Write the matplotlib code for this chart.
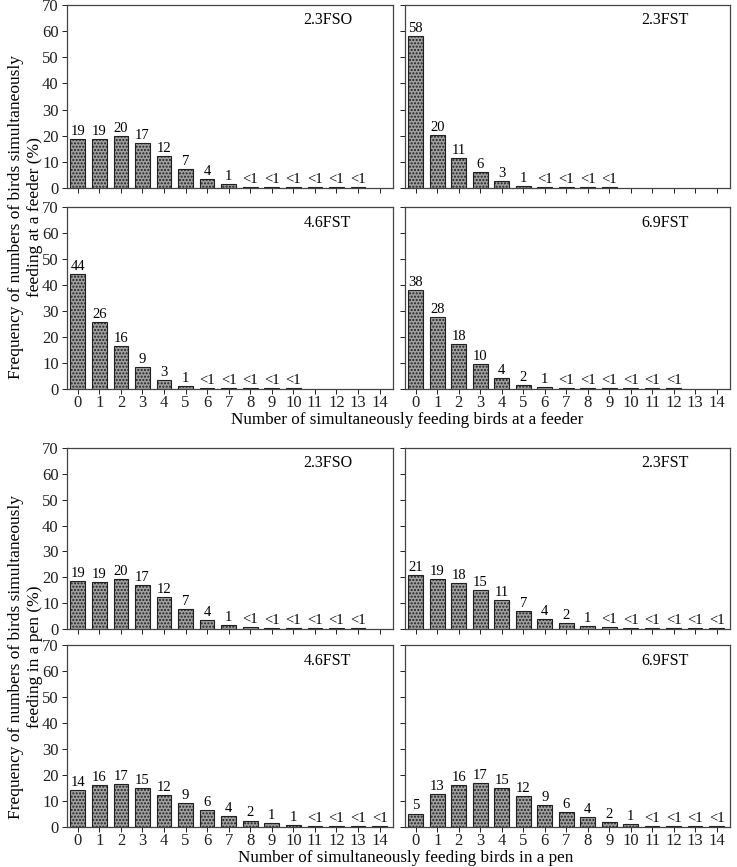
import numpy as np
import matplotlib
matplotlib.use("Agg")
from matplotlib import pyplot as plt

plt.rcParams['font.family'] = ['Liberation Serif', 'DejaVu Serif']

x = np.arange(15)

# feeder data (heights, labels)
feeder_fso = [18.8, 18.8, 19.9, 17.3, 12.2, 7.2, 3.6, 1.4, 0.4, 0.4, 0.4, 0.4, 0.4, 0.4]
feeder_fso_lab = ['19', '19', '20', '17', '12', '7', '4', '1', '<1', '<1', '<1', '<1', '<1', '<1']
feeder_23fst = [58.2, 20.2, 11.3, 6.2, 2.6, 0.8, 0.4, 0.4, 0.4, 0.4]
feeder_23fst_lab = ['58', '20', '11', '6', '3', '1', '<1', '<1', '<1', '<1']
feeder_46fst = [44.3, 25.8, 16.4, 8.4, 3.3, 1.1, 0.4, 0.4, 0.4, 0.4, 0.4]
feeder_46fst_lab = ['44', '26', '16', '9', '3', '1', '<1', '<1', '<1', '<1', '<1']
feeder_69fst = [38.2, 27.6, 17.4, 9.6, 4.3, 1.6, 0.6, 0.3, 0.3, 0.3, 0.3, 0.3, 0.3]
feeder_69fst_lab = ['38', '28', '18', '10', '4', '2', '1', '<1', '<1', '<1', '<1', '<1', '<1']

# pen data
pen_fso = [18.6, 18.3, 19.5, 17.1, 12.5, 7.6, 3.6, 1.5, 0.7, 0.3, 0.3, 0.3, 0.3, 0.3]
pen_fso_lab = ['19', '19', '20', '17', '12', '7', '4', '1', '<1', '<1', '<1', '<1', '<1', '<1']
pen_23fst = [20.7, 19.2, 17.7, 15.1, 11.1, 6.9, 4.0, 2.2, 1.1, 0.6, 0.3, 0.3, 0.3, 0.3, 0.3]
pen_23fst_lab = ['21', '19', '18', '15', '11', '7', '4', '2', '1', '<1', '<1', '<1', '<1', '<1', '<1']
pen_46fst = [14.3, 16.3, 16.6, 15.1, 12.3, 9.3, 6.4, 4.1, 2.5, 1.4, 0.8, 0.5, 0.3, 0.3, 0.3]
pen_46fst_lab = ['14', '16', '17', '15', '12', '9', '6', '4', '2', '1', '1', '<1', '<1', '<1', '<1']
pen_69fst = [5.2, 12.7, 16.3, 16.8, 14.9, 12.1, 8.6, 5.7, 3.7, 2.0, 1.1, 0.5, 0.3, 0.3, 0.3]
pen_69fst_lab = ['5', '13', '16', '17', '15', '12', '9', '6', '4', '2', '1', '<1', '<1', '<1', '<1']

panels = [
    ('2.3FSO', feeder_fso, feeder_fso_lab),
    ('2.3FST', feeder_23fst, feeder_23fst_lab),
    ('4.6FST', feeder_46fst, feeder_46fst_lab),
    ('6.9FST', feeder_69fst, feeder_69fst_lab),
    ('2.3FSO', pen_fso, pen_fso_lab),
    ('2.3FST', pen_23fst, pen_23fst_lab),
    ('4.6FST', pen_46fst, pen_46fst_lab),
    ('6.9FST', pen_69fst, pen_69fst_lab),
]

fig = plt.figure(figsize=(7.37, 8.67), dpi=100)

lefts = [0.0909, 0.5495]
widths = [0.4423, 0.441]
rows = [(0.7832, 0.2111), (0.5513, 0.2099), (0.2745, 0.2088), (0.0461, 0.2099)]

for i, (name, vals, labs) in enumerate(panels):
    r, c = divmod(i, 2)
    ax = fig.add_axes([lefts[c], rows[r][0], widths[c], rows[r][1]])
    n = len(vals)
    ax.bar(x[:n], vals, width=0.68, color='#a0a0a0', edgecolor='#202020',
           linewidth=0.8, hatch='.....', zorder=2)
    for xi, v, t in zip(x[:n], vals, labs):
        ax.text(xi, v + 0.4, t, ha='center', va='bottom', fontsize=10.5)
    ax.text(0.80, 0.915, name, transform=ax.transAxes, ha='center', va='center', fontsize=11.5)
    ax.set_xlim(-0.5, 14.62)
    ax.set_ylim(0, 70)
    ax.set_yticks(range(0, 71, 10))
    ax.set_xticks(x)
    ax.tick_params(direction='out', length=3.5, width=0.7, labelsize=12, colors='#202020', pad=2.5)
    ax.tick_params(axis='x', pad=1)
    if c == 1:
        ax.set_yticklabels([])
    if r in (0, 2):
        ax.set_xticklabels([])
    for s in ax.spines.values():
        s.set_color('#444444')
        s.set_linewidth(0.9)

fig.text(0.553, 0.5156, 'Number of simultaneously feeding birds at a feeder',
         ha='center', va='center', fontsize=12.3)
fig.text(0.55, 0.0104, 'Number of simultaneously feeding birds in a pen',
         ha='center', va='center', fontsize=12.3)
fig.text(0.0346, 0.75, 'Frequency of numbers of birds simultaneously\nfeeding at a feeder (%)',
         ha='center', va='center', rotation=90, fontsize=12.5)
fig.text(0.0346, 0.242, 'Frequency of numbers of birds simultaneously\nfeeding in a pen (%)',
         ha='center', va='center', rotation=90, fontsize=12.5)

fig.savefig('out.png', dpi=100)
